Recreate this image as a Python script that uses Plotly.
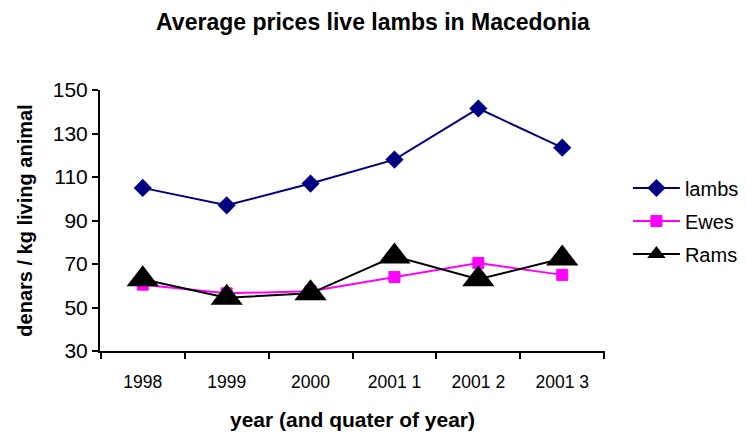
import plotly.graph_objects as go

categories = ["1998", "1999", "2000", "2001 1", "2001 2", "2001 3"]
lambs = [105, 97, 107, 118, 141.5, 123.5]
ewes = [60.5, 56.5, 57.5, 64, 70.5, 65]
rams = [63, 54.5, 56.5, 73.5, 63, 72.5]

font = "Liberation Sans, Arial, sans-serif"

fig = go.Figure()
fig.add_trace(go.Scatter(x=categories, y=lambs, name="lambs", mode="lines+markers",
                         legendgroup="a",
                         line=dict(color="#000080", width=2),
                         marker=dict(symbol="diamond", size=14, color="#000080")))
fig.add_trace(go.Scatter(x=categories, y=ewes, name="Ewes", mode="lines+markers",
                         legendgroup="b",
                         line=dict(color="#FF00FF", width=2),
                         marker=dict(symbol="square", size=11, color="#FF00FF",
                                     line=dict(color="#FF00FF", width=1))))
fig.add_trace(go.Scatter(x=categories, y=rams, name="Rams", mode="lines+markers",
                         legendgroup="c",
                         line=dict(color="#000000", width=2),
                         marker=dict(symbol="triangle-up", size=28, color="#000000")))

fig.update_layout(
    width=738, height=428,
    margin=dict(l=92, r=141, t=82, b=85),
    paper_bgcolor="white", plot_bgcolor="white",
    font=dict(family=font, size=16, color="black"),
    title=dict(text="<b>Average prices live lambs in Macedonia</b>",
               x=0.4946, xanchor="center", y=0.968, yanchor="middle",
               font=dict(size=23, family=font)),
    showlegend=True,
    legend=dict(xref="container", x=0.840, y=0.498, xanchor="left", yanchor="middle",
                font=dict(size=20, family=font), itemwidth=47,
                tracegroupgap=4, bgcolor="rgba(0,0,0,0)"),
    xaxis=dict(type="category", showline=True, linecolor="black", linewidth=2,
               ticks="outside", tickson="boundaries", ticklen=6, tickwidth=2,
               tickcolor="black", showgrid=False, zeroline=False,
               ticklabelstandoff=14, automargin=False,
               title=dict(text="<b>year (and quater of year)</b>", standoff=21,
                          font=dict(size=21, family=font)),
               tickfont=dict(size=17.5)),
    yaxis=dict(range=[30, 150], tickvals=[30, 50, 70, 90, 110, 130, 150],
               showline=True, linecolor="black", linewidth=2,
               ticks="outside", ticklen=6, tickwidth=2, tickcolor="black",
               showgrid=False, zeroline=False, automargin=False,
               title=dict(text="<b>denars / kg living animal</b>", standoff=15,
                          font=dict(size=20, family=font)),
               tickfont=dict(size=21)),
)

fig.write_html("out.html")
